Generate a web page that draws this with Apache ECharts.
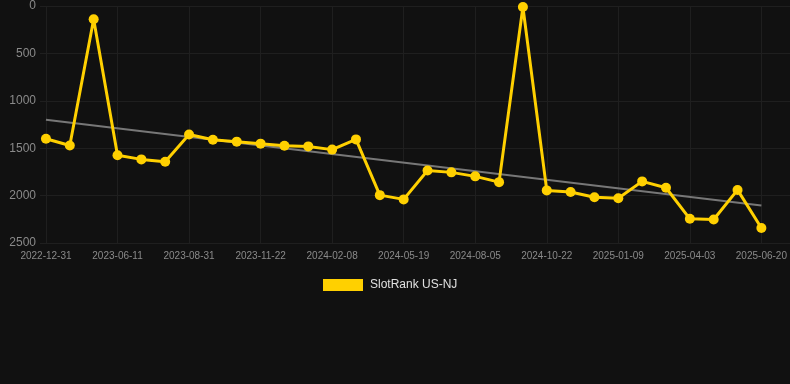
<!DOCTYPE html>
<html>
<head>
<meta charset="utf-8">
<script src="https://cdn.jsdelivr.net/npm/echarts@6/dist/echarts.min.js"></script>
<style>
html,body{margin:0;padding:0;background:#111111;}
#chart{width:790px;height:384px;}
</style>
</head>
<body>
<div id="chart"></div>
<script>
const dates = ['2022-12-31','2023-02-24','2023-04-19','2023-06-11','2023-07-08','2023-08-04','2023-08-31','2023-09-27','2023-10-25','2023-11-22','2023-12-18','2024-01-13','2024-02-08','2024-03-11','2024-04-15','2024-05-19','2024-06-14','2024-07-10','2024-08-05','2024-08-31','2024-09-26','2024-10-22','2024-11-17','2024-12-14','2025-01-09','2025-02-06','2025-03-06','2025-04-03','2025-04-28','2025-05-24','2025-06-20'];
const ranks = [1400,1472,140,1575,1618,1642,1355,1410,1431,1452,1474,1481,1515,1407,1995,2040,1735,1755,1797,1858,10,1945,1962,2018,2028,1850,1917,2245,2252,1940,2342];
const trendValues = [1200,2104];
const labelIdx = [0,3,6,9,12,15,18,21,24,27,30];
const yTicks = [0,500,1000,1500,2000,2500];

const seriesData = ranks.map((v,i)=>[i,v]);
const trendData = [[0,trendValues[0]],[ranks.length-1,trendValues[1]]];

const chart = echarts.init(document.getElementById('chart'));
chart.setOption({
  backgroundColor:'#111111',
  animation:false,
  grid:{left:40,right:0,top:6,bottom:141,containLabel:false},
  legend:{
    top:274,left:318,
    itemWidth:40,itemHeight:12,itemGap:10,
    icon:'rect',
    data:['SlotRank US-NJ'],
    textStyle:{color:'#e0e0e0',fontSize:12,padding:[0,0,0,2],fontFamily:'Arial, Liberation Sans, sans-serif'}
  },
  xAxis:{
    type:'value',
    min:-0.25,max:31.2,
    axisLine:{show:false},
    axisTick:{show:false,customValues:labelIdx},
    splitLine:{show:true,lineStyle:{color:'#1f1f1f',width:1}},
    axisLabel:{
      customValues:labelIdx,
      color:'#8a8a8a',fontSize:10,margin:8,
      fontFamily:'Arial, Liberation Sans, sans-serif',
      formatter:(v)=>dates[Math.round(v)]||''
    }
  },
  yAxis:{
    type:'value',inverse:true,min:yTicks[0],max:yTicks[yTicks.length-1],interval:500,
    axisLine:{show:false},axisTick:{show:false},
    splitLine:{lineStyle:{color:'#1f1f1f',width:1}},
    axisLabel:{color:'#8a8a8a',fontSize:12,margin:4,fontFamily:'Arial, Liberation Sans, sans-serif',
      formatter:(v)=>String(v)}
  },
  series:[
    {
      name:'Trend',type:'line',data:trendData,symbol:'none',
      lineStyle:{color:'#777777',width:2},z:1,silent:true
    },
    {
      name:'SlotRank US-NJ',type:'line',data:seriesData,
      symbol:'circle',symbolSize:10,
      itemStyle:{color:'#FFD000'},
      lineStyle:{color:'#FFD000',width:3},z:2
    }
  ]
});
</script>
</body>
</html>
